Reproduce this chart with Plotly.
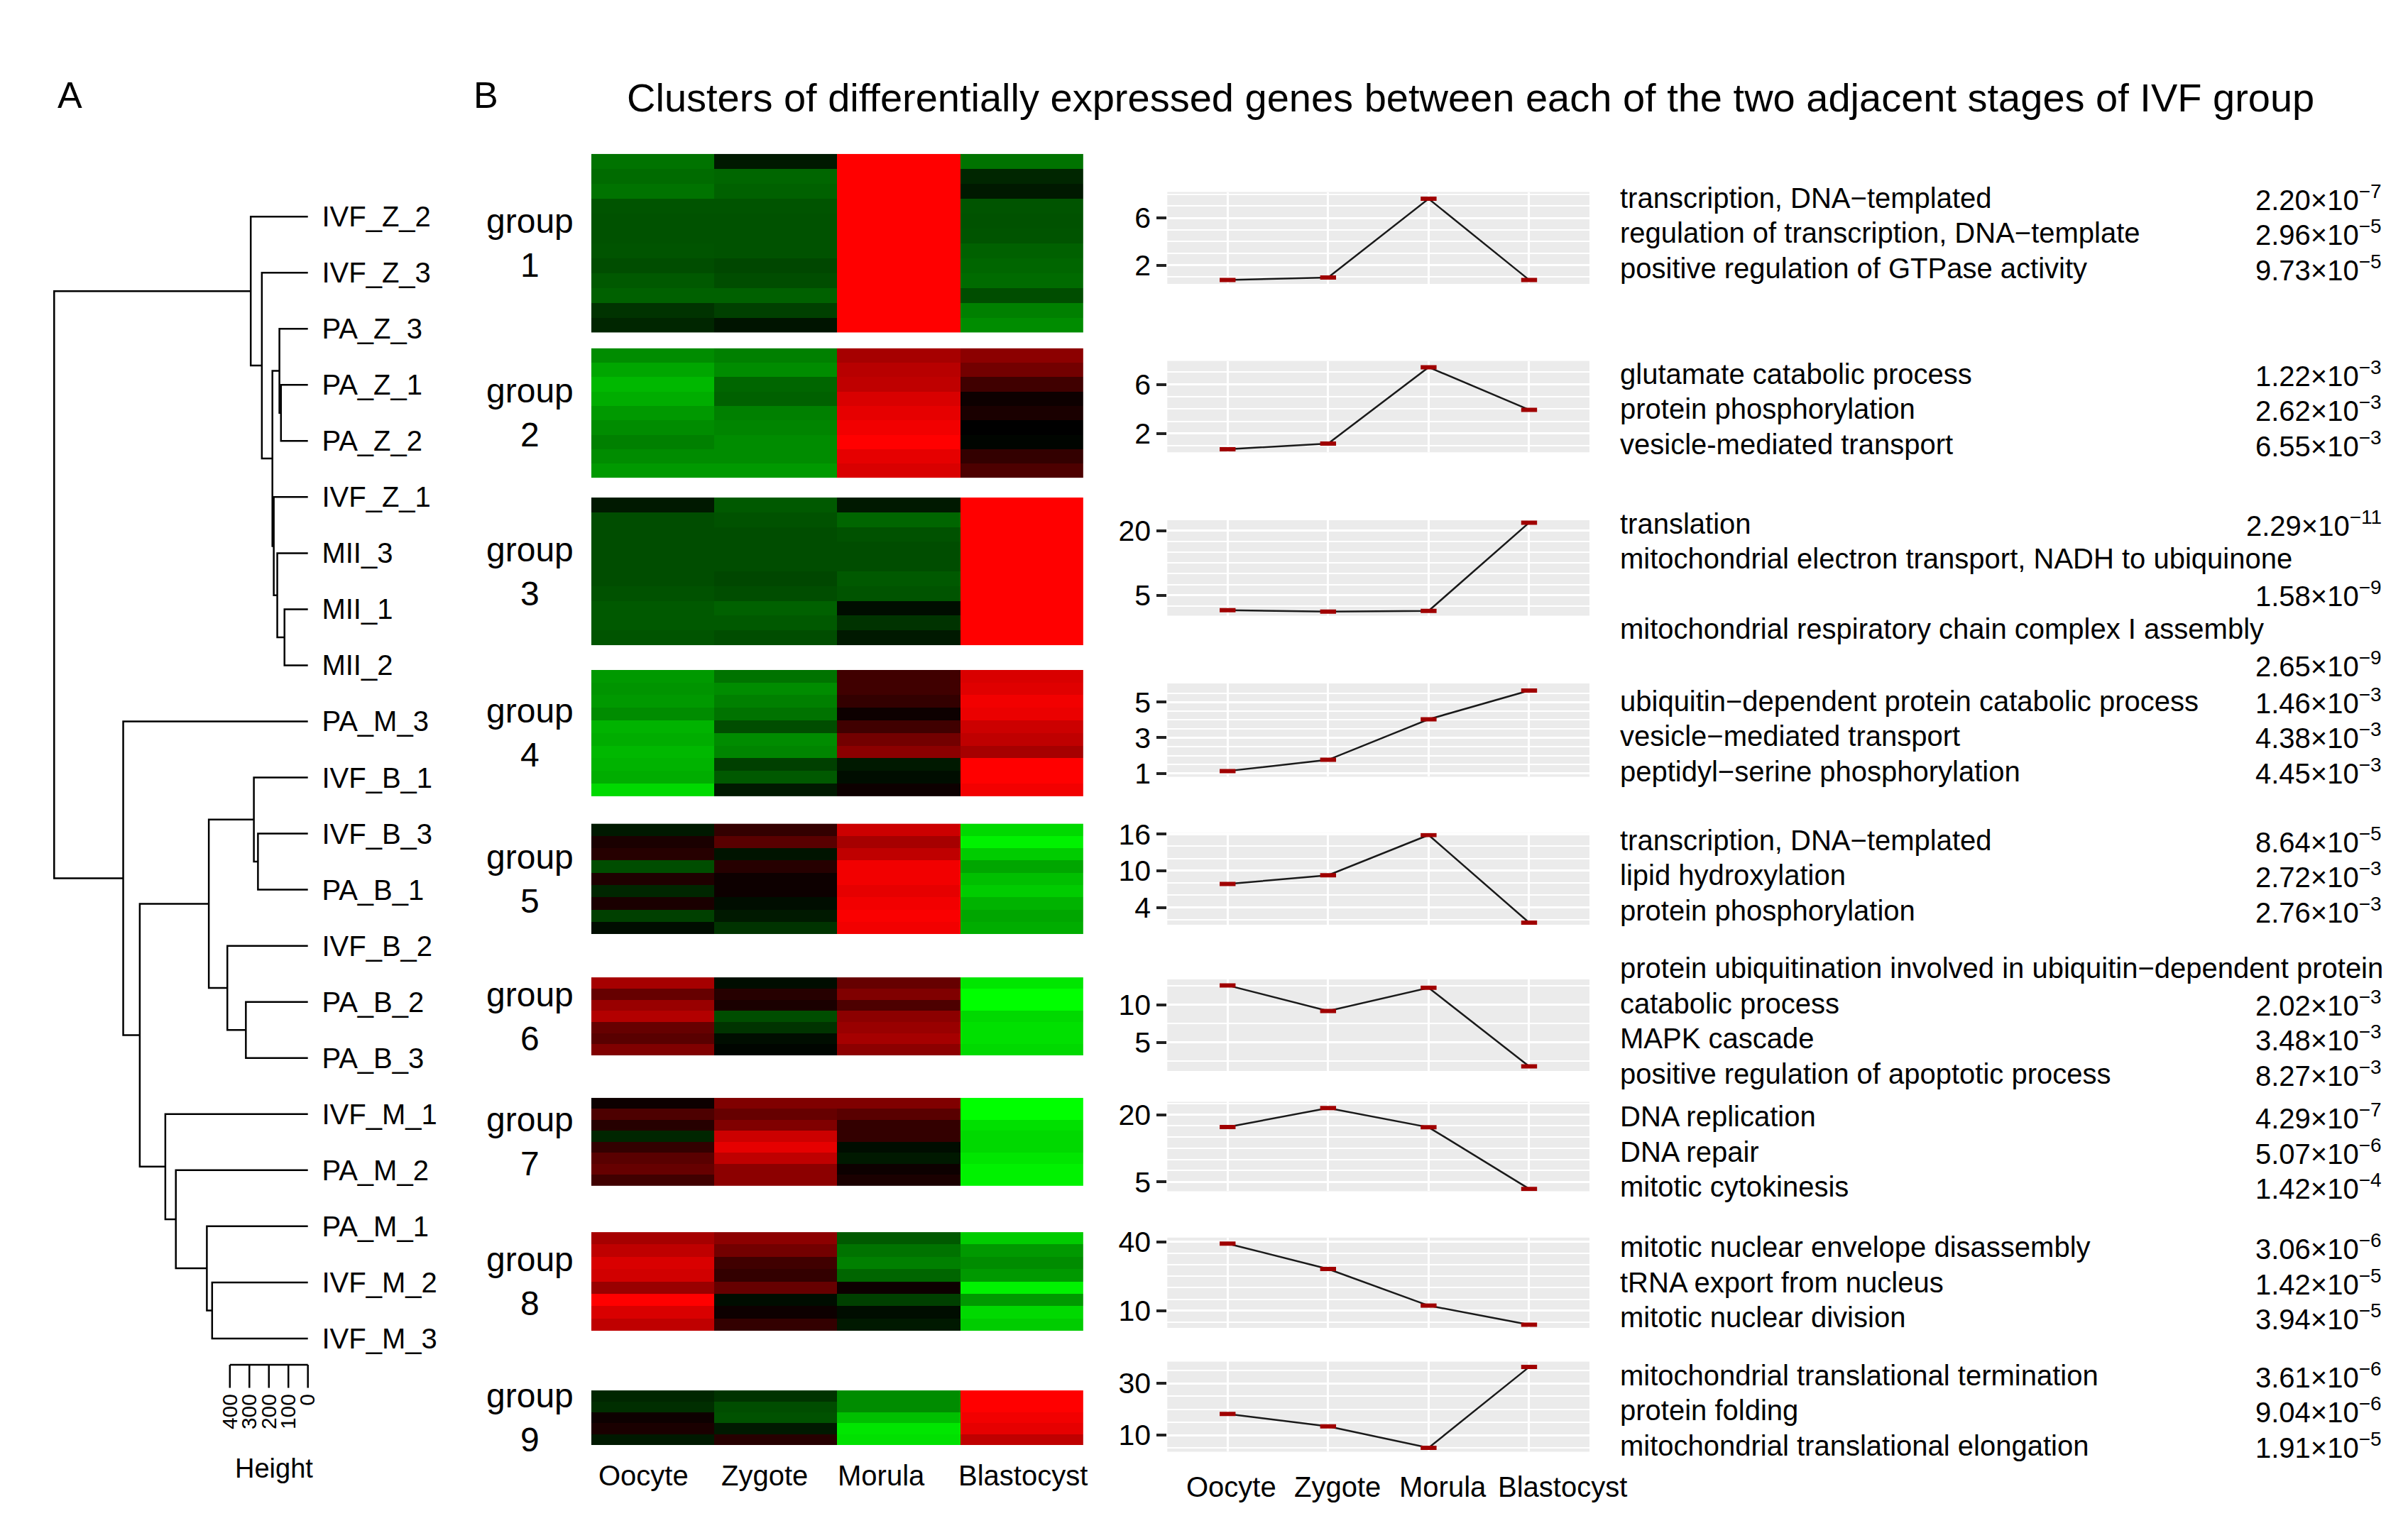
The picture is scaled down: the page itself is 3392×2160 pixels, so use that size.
import plotly.graph_objects as go

W, H = 3392, 2160
FONT = "Liberation Sans, Arial, Helvetica, sans-serif"

# ---------------- data ----------------
stages = ["Oocyte", "Zygote", "Morula", "Blastocyst"]
group_ids = ["1", "2", "3", "4", "5", "6", "7", "8", "9"]

leaf_labels = ["IVF_Z_2", "IVF_Z_3", "PA_Z_3", "PA_Z_1", "PA_Z_2", "IVF_Z_1", "MII_3", "MII_1", "MII_2",
               "PA_M_3", "IVF_B_1", "IVF_B_3", "PA_B_1", "IVF_B_2", "PA_B_2", "PA_B_3",
               "IVF_M_1", "PA_M_2", "PA_M_1", "IVF_M_2", "IVF_M_3"]
# merges: leaf name or index of an earlier merge
merge_left = ["PA_Z_1", "PA_Z_3", "MII_1", "MII_3", "IVF_Z_1", 1, "IVF_Z_3", "IVF_Z_2",
              "IVF_B_3", "IVF_B_1", "PA_B_2", "IVF_B_2", 9, "IVF_M_2", "PA_M_1", "PA_M_2",
              "IVF_M_1", 12, "PA_M_3", 7]
merge_right = ["PA_Z_2", 0, "MII_2", 2, 3, 4, 5, 6,
               "PA_B_1", 8, "PA_B_3", 10, 11, "IVF_M_3", 13, 14,
               15, 16, 17, 18]
merge_height = [138, 146, 120, 157, 175, 182, 236, 293,
                256, 277, 318, 413, 508, 491, 518, 677,
                731, 862, 947, 1301]
height_ticks = [0, 100, 200, 300, 400]

# heatmap rows (top to bottom), columns = stages; -1 green, 0 black, 1 red
heat_g1 = [[-0.45, -0.10, 1, -0.45], [-0.42, -0.40, 1, -0.15], [-0.45, -0.38, 1, -0.10],
           [-0.33, -0.33, 1, -0.33], [-0.32, -0.32, 1, -0.32], [-0.32, -0.32, 1, -0.33],
           [-0.33, -0.32, 1, -0.38], [-0.30, -0.28, 1, -0.40], [-0.35, -0.30, 1, -0.42],
           [-0.38, -0.38, 1, -0.30], [-0.20, -0.25, 1, -0.50], [-0.15, -0.08, 1, -0.55]]
heat_g2 = [[-0.55, -0.50, 0.65, 0.55], [-0.65, -0.55, 0.72, 0.45], [-0.72, -0.40, 0.75, 0.25],
           [-0.68, -0.38, 0.85, 0.05], [-0.60, -0.50, 0.90, 0.10], [-0.55, -0.52, 0.95, 0.00],
           [-0.50, -0.55, 1.00, -0.02], [-0.55, -0.55, 0.90, 0.20], [-0.60, -0.60, 0.85, 0.30]]
heat_g3 = [[-0.10, -0.35, -0.10, 1], [-0.30, -0.32, -0.40, 1], [-0.30, -0.30, -0.32, 1],
           [-0.30, -0.30, -0.30, 1], [-0.30, -0.30, -0.30, 1], [-0.30, -0.28, -0.35, 1],
           [-0.32, -0.30, -0.33, 1], [-0.35, -0.38, -0.05, 1], [-0.35, -0.35, -0.20, 1],
           [-0.33, -0.30, -0.10, 1]]
heat_g4 = [[-0.60, -0.45, 0.25, 0.85], [-0.58, -0.55, 0.25, 0.88], [-0.60, -0.50, 0.20, 0.95],
           [-0.55, -0.45, 0.05, 0.92], [-0.70, -0.30, 0.25, 0.80], [-0.68, -0.55, 0.45, 0.75],
           [-0.72, -0.52, 0.55, 0.65], [-0.70, -0.25, -0.10, 1.00], [-0.68, -0.35, -0.05, 1.00],
           [-0.85, -0.10, 0.05, 0.95]]
heat_g5 = [[-0.10, 0.20, 0.80, -0.85], [0.10, 0.35, 0.65, -0.95], [0.15, -0.08, 0.75, -0.80],
           [-0.30, 0.15, 0.95, -0.65], [0.12, 0.05, 0.95, -0.75], [-0.15, 0.05, 0.90, -0.80],
           [0.10, -0.05, 0.95, -0.70], [-0.25, -0.10, 0.98, -0.65], [-0.05, -0.20, 0.95, -0.68]]
heat_g6 = [[0.65, -0.05, 0.40, -0.90], [0.40, 0.15, 0.50, -1.00], [0.60, 0.10, 0.30, -1.00],
           [0.70, -0.30, 0.55, -0.85], [0.40, -0.20, 0.60, -0.88], [0.35, -0.05, 0.65, -0.88],
           [0.50, -0.02, 0.55, -0.85]]
heat_g7 = [[0.05, 0.50, 0.50, -1.00], [0.30, 0.40, 0.35, -1.00], [0.15, 0.50, 0.20, -0.88],
           [-0.15, 0.80, 0.20, -0.85], [0.20, 0.90, -0.05, -0.85], [0.35, 0.75, -0.10, -0.90],
           [0.40, 0.55, 0.05, -0.95], [0.25, 0.55, 0.10, -0.95]]
heat_g8 = [[0.65, 0.55, -0.35, -0.80], [0.75, 0.45, -0.45, -0.60], [0.85, 0.25, -0.50, -0.55],
           [0.82, 0.20, -0.40, -0.60], [0.60, 0.40, 0.05, -0.95], [1.00, -0.05, -0.25, -0.60],
           [0.85, 0.05, -0.05, -0.85], [0.75, 0.20, -0.10, -0.80]]
heat_g9 = [[-0.15, -0.20, -0.55, 1.00], [-0.18, -0.30, -0.55, 1.00], [0.05, -0.32, -0.75, 0.95],
           [0.10, -0.10, -0.90, 0.90], [-0.10, 0.15, -0.88, 0.75]]
heat_groups = [heat_g1, heat_g2, heat_g3, heat_g4, heat_g5, heat_g6, heat_g7, heat_g8, heat_g9]

# mean expression profiles per cluster
trend_g1 = [0.75, 0.95, 7.62, 0.75]
trend_g2 = [0.73, 1.18, 7.39, 3.93]
trend_g3 = [1.50, 1.20, 1.35, 21.9]
trend_g4 = [1.13, 1.76, 4.03, 5.64]
trend_g5 = [7.83, 9.26, 15.85, 1.50]
trend_g6 = [12.6, 9.18, 12.28, 1.79]
trend_g7 = [17.24, 21.5, 17.2, 3.43]
trend_g8 = [39.3, 28.2, 12.2, 3.88]
trend_g9 = [18.2, 13.35, 5.1, 36.3]
trends = [trend_g1, trend_g2, trend_g3, trend_g4, trend_g5, trend_g6, trend_g7, trend_g8, trend_g9]
trend_ticks = [[2, 6], [2, 6], [5, 20], [1, 3, 5], [4, 10, 16], [5, 10], [5, 20], [10, 40], [10, 30]]
trend_minor = [1, 1, 2.5, 0.5, 2, 2.5, 2.5, 5, 5]

go_terms = [
    ["transcription, DNA\u2212templated", "regulation of transcription, DNA\u2212template",
     "positive regulation of GTPase activity"],
    ["glutamate catabolic process", "protein phosphorylation", "vesicle-mediated transport"],
    ["translation", "mitochondrial electron transport, NADH to ubiquinone", "",
     "mitochondrial respiratory chain complex I assembly", ""],
    ["ubiquitin\u2212dependent protein catabolic process", "vesicle\u2212mediated transport",
     "peptidyl\u2212serine phosphorylation"],
    ["transcription, DNA\u2212templated", "lipid hydroxylation", "protein phosphorylation"],
    ["protein ubiquitination involved in ubiquitin\u2212dependent protein", "catabolic process",
     "MAPK cascade", "positive regulation of apoptotic process"],
    ["DNA replication", "DNA repair", "mitotic cytokinesis"],
    ["mitotic nuclear envelope disassembly", "tRNA export from nucleus", "mitotic nuclear division"],
    ["mitochondrial translational termination", "protein folding", "mitochondrial translational elongation"],
]
pv_mant = [["2.20", "2.96", "9.73"], ["1.22", "2.62", "6.55"], ["2.29", "", "1.58", "", "2.65"],
           ["1.46", "4.38", "4.45"], ["8.64", "2.72", "2.76"], ["", "2.02", "3.48", "8.27"],
           ["4.29", "5.07", "1.42"], ["3.06", "1.42", "3.94"], ["3.61", "9.04", "1.91"]]
pv_exp = [[-7, -5, -5], [-3, -3, -3], [-11, None, -9, None, -9], [-3, -3, -3], [-5, -3, -3],
          [None, -3, -3, -3], [-7, -6, -4], [-6, -5, -5], [-6, -6, -5]]

title_text = "Clusters of differentially expressed genes between each of the two adjacent stages of IVF group"

# ---------------- layout geometry (pixels) ----------------
DEN_X = (63.3, 430.1)
DEN_Y = (241.0, 1963.5)
DEN_XRANGE = [1320, -10]
DEN_YRANGE = [20.9, -0.5]
BAR_Y, BAR_TICK_Y = 20.47, 20.88
HM_X = (828, 1524)
HM_Y = [(191.3, 447.7), (470.1, 656.0), (684.4, 896.7), (931.7, 1113.0), (1152.2, 1310.7),
        (1372.9, 1484.8), (1545.7, 1672.2), (1738.5, 1880.3), (1965.6, 2044.0)]
HM_LABEL_X = [-0.075, 0.91, 1.86, 3.01]
HM_LABEL_Y = 2088
LN_X = (1642.6, 2239.5)
LN_Y = [(246.0, 377.7), (488.4, 619.4), (716.9, 854.0), (951.2, 1085.0), (1165.8, 1297.5),
        (1375.8, 1507.1), (1551.4, 1679.8), (1746.2, 1875.9), (1924.2, 2053.5)]
LN_YRANGE = [[0.42, 8.19], [0.48, 7.9], [0.22, 22.47], [0.81, 6.04], [1.15, 16.17],
             [1.18, 13.4], [2.9, 22.9], [2.45, 41.95], [3.6, 38.4]]
LN_LABEL_X = [0.04, 1.09, 2.14, 3.33]
LN_LABEL_Y = 2104
GO_X, PV_X = 2281, 3362
GO_Y0 = [254.5, 506.7, 722.0, 976.6, 1176.0, 1359.8, 1572.7, 1760.0, 1943.9]
GO_DY = 50.4


def xd(a, b):
    return [a / W, b / W]


def yd(top, bot):
    return [1 - bot / H, 1 - top / H]


fig = go.Figure()
layout = {}
annotations = []
shapes = []

# ---------------- dendrogram ----------------
pos = {name: (0.0, float(i)) for i, name in enumerate(leaf_labels)}
nodes = []


def child(c):
    return pos[c] if isinstance(c, str) else nodes[c]


dx, dy = [], []
for l, r, h in zip(merge_left, merge_right, merge_height):
    (hl, yl), (hr, yr) = child(l), child(r)
    dx += [hl, h, h, hr, None]
    dy += [yl, yl, yr, yr, None]
    nodes.append((h, (yl + yr) / 2))

fig.add_trace(go.Scatter(x=dx, y=dy, mode="lines", line=dict(color="black", width=2.5),
                         xaxis="x", yaxis="y", hoverinfo="skip"))
bx = [max(height_ticks), min(height_ticks), None]
by = [BAR_Y, BAR_Y, None]
for t in height_ticks:
    bx += [t, t, None]
    by += [BAR_Y, BAR_TICK_Y, None]
fig.add_trace(go.Scatter(x=bx, y=by, mode="lines", line=dict(color="black", width=2.5),
                         xaxis="x", yaxis="y", hoverinfo="skip"))

layout["xaxis"] = dict(domain=xd(*DEN_X), range=DEN_XRANGE, anchor="y", showgrid=False,
                       zeroline=False, showline=False, ticks="", tickmode="array",
                       tickvals=height_ticks, ticktext=[str(t) for t in height_ticks],
                       tickangle=-90, tickfont=dict(size=30, family=FONT, color="black"))
layout["yaxis"] = dict(domain=yd(*DEN_Y), range=DEN_YRANGE, anchor="x", side="right",
                       showgrid=False, zeroline=False, showline=False, ticks="",
                       tickmode="array", tickvals=list(range(len(leaf_labels))),
                       ticktext=leaf_labels, ticklabelstandoff=16,
                       tickfont=dict(size=40, family=FONT, color="black"))
annotations.append(dict(text="Height", x=379.5 / W, y=1 - 2078 / H, xref="paper", yref="paper",
                        showarrow=False, font=dict(size=38, family=FONT, color="black"),
                        xanchor="center", yanchor="middle"))

colorscale = [[0.0, "#00FF00"], [0.5, "#000000"], [1.0, "#FF0000"]]

for g in range(9):
    # heatmap
    k = g + 2
    rows = heat_groups[g]
    fig.add_trace(go.Heatmap(z=rows, x=list(range(len(stages))), y=list(range(len(rows))),
                             colorscale=colorscale, zmin=-1, zmax=1, showscale=False,
                             xaxis=f"x{k}", yaxis=f"y{k}", hoverinfo="skip"))
    layout[f"xaxis{k}"] = dict(domain=xd(*HM_X), range=[-0.5, 3.5], anchor=f"y{k}",
                               showgrid=False, zeroline=False, showline=False,
                               showticklabels=False, ticks="")
    layout[f"yaxis{k}"] = dict(domain=yd(*HM_Y[g]), range=[len(rows) - 0.5, -0.5], anchor=f"x{k}",
                               showgrid=False, zeroline=False, showline=False,
                               showticklabels=False, ticks="")
    cy = (HM_Y[g][0] + HM_Y[g][1]) / 2
    annotations.append(dict(text=f"group<br>{group_ids[g]}", x=741 / W, y=1 - cy / H,
                            xref="paper", yref="paper", showarrow=False, align="center",
                            xanchor="center", yanchor="middle",
                            font=dict(size=48, family=FONT, color="black")))

    # profile line
    m = g + 11
    fig.add_trace(go.Scatter(x=list(range(4)), y=trends[g], mode="lines+markers",
                             line=dict(color="#1a1a1a", width=2.5),
                             marker=dict(symbol="line-ew", size=16,
                                         line=dict(color="#A00000", width=6)),
                             xaxis=f"x{m}", yaxis=f"y{m}", hoverinfo="skip"))
    layout[f"xaxis{m}"] = dict(domain=xd(*LN_X), range=[-0.6, 3.6], anchor=f"y{m}",
                               tickmode="array", tickvals=list(range(4)), ticktext=stages,
                               showticklabels=False, ticks="", showgrid=True, gridcolor="white",
                               gridwidth=2.5, zeroline=False, showline=False)
    layout[f"yaxis{m}"] = dict(domain=yd(*LN_Y[g]), range=LN_YRANGE[g], anchor=f"x{m}",
                               tickmode="array", tickvals=trend_ticks[g],
                               ticktext=[str(v) for v in trend_ticks[g]],
                               ticks="outside", ticklen=14, tickwidth=4, tickcolor="#222222",
                               showgrid=True, gridcolor="white", gridwidth=2.5,
                               minor=dict(tickmode="linear", tick0=0, dtick=trend_minor[g],
                                          showgrid=True, gridcolor="white", gridwidth=2,
                                          ticks=""),
                               zeroline=False, showline=False,
                               tickfont=dict(size=41, family=FONT, color="black"))
    shapes.append(dict(type="rect", xref=f"x{m} domain", yref=f"y{m} domain", x0=0, x1=1,
                       y0=0, y1=1, fillcolor="#EBEBEB", line=dict(width=0), layer="below"))

    # GO annotation text
    for j, term in enumerate(go_terms[g]):
        yy = 1 - (GO_Y0[g] + j * GO_DY) / H
        if term:
            annotations.append(dict(text=term, x=GO_X / W, y=yy, xref="paper", yref="paper",
                                    showarrow=False, xanchor="left", yanchor="middle",
                                    font=dict(size=40, family=FONT, color="black")))
        if pv_mant[g][j]:
            e = pv_exp[g][j]
            txt = f"{pv_mant[g][j]}\u00d710<sup>\u2212{abs(e)}</sup>"
            annotations.append(dict(text=txt, x=PV_X / W, y=yy, xref="paper", yref="paper",
                                    showarrow=False, xanchor="right", yanchor="middle",
                                    font=dict(size=40, family=FONT, color="black")))

# stage labels under the heatmaps and the bottom profile plot
for s, hx, lx in zip(stages, HM_LABEL_X, LN_LABEL_X):
    annotations.append(dict(text=s, x=hx, xref="x10", y=1 - HM_LABEL_Y / H, yref="paper",
                            showarrow=False, xanchor="center", yanchor="middle",
                            font=dict(size=40, family=FONT, color="black")))
    annotations.append(dict(text=s, x=lx, xref="x19", y=1 - LN_LABEL_Y / H, yref="paper",
                            showarrow=False, xanchor="center", yanchor="middle",
                            font=dict(size=40, family=FONT, color="black")))

# panel letters and title
annotations.append(dict(text="A", x=91 / W, y=1 - 107 / H, xref="paper", yref="paper",
                        showarrow=False, xanchor="center", yanchor="middle",
                        font=dict(size=52, family=FONT, color="black")))
annotations.append(dict(text="B", x=679 / W, y=1 - 107 / H, xref="paper", yref="paper",
                        showarrow=False, xanchor="center", yanchor="middle",
                        font=dict(size=52, family=FONT, color="black")))
annotations.append(dict(text=title_text, x=876 / W, y=1 - 110 / H, xref="paper", yref="paper",
                        showarrow=False, xanchor="left", yanchor="middle",
                        font=dict(size=56, family=FONT, color="black")))

fig.update_layout(width=W, height=H, margin=dict(l=0, r=0, t=0, b=0, pad=0),
                  paper_bgcolor="white", plot_bgcolor="white", showlegend=False,
                  font=dict(family=FONT, color="black"),
                  annotations=annotations, shapes=shapes, **layout)

fig.write_html("out.html")
